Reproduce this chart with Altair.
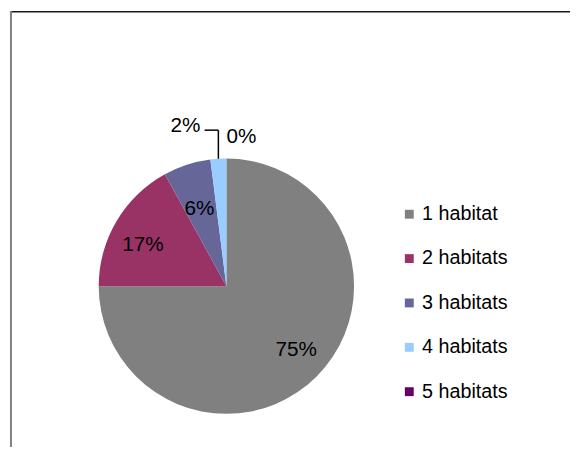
import altair as alt
import pandas as pd

categories = ["1 habitat", "2 habitats", "3 habitats", "4 habitats", "5 habitats"]
values = [75, 17, 6, 2, 0]
colors = ["#808080", "#993366", "#666699", "#99CCFF", "#660066"]

df = pd.DataFrame({"category": categories, "value": values})

FONT = "Liberation Sans, Arial, sans-serif"
CX, CY, R = 221.5, 279.0, 129.5

base = alt.Chart(df).transform_joinaggregate(
    total="sum(value)"
).transform_calculate(
    pct="format(datum.value / datum.total, '.0%')",
    lab_big="datum.value >= 50 ? datum.pct : ''",
    lab_med="datum.value >= 10 && datum.value < 50 ? datum.pct : ''",
    lab_mid="datum.value >= 5 && datum.value < 10 ? datum.pct : ''",
    lab_o1="datum.value >= 1 && datum.value < 5 ? datum.pct : ''",
    lab_o0="datum.value < 1 ? datum.pct : ''",
).encode(
    theta=alt.Theta("value:Q", stack=True),
    order=alt.Order("category:N", sort="ascending"),
    x=alt.value(CX),
    y=alt.value(CY),
)

pie = base.mark_arc(radius=R, strokeWidth=0).encode(
    color=alt.Color(
        "category:N",
        scale=alt.Scale(domain=categories, range=colors),
        legend=alt.Legend(
            title=None,
            orient="none",
            legendX=397,
            legendY=196,
            symbolType="square",
            symbolSize=81,
            symbolStrokeWidth=0,
            labelFontSize=20,
            labelFont=FONT,
            labelColor="black",
            labelOffset=3,
            rowPadding=25,
            padding=0,
        ),
    )
)

txt_big = base.mark_text(
    radius=96, fontSize=21, font=FONT, color="black", dx=3, dy=-3
).encode(text="lab_big:N")
txt_med = base.mark_text(
    radius=96, fontSize=21, font=FONT, color="black", dx=-2, dy=7
).encode(text="lab_med:N")
txt_mid = base.mark_text(radius=82, fontSize=21, font=FONT, color="black", dx=-2).encode(
    text="lab_mid:N"
)
txt_o1 = base.mark_text(
    radius=163, fontSize=21, font=FONT, color="black", align="right", dx=-16
).encode(text="lab_o1:N")
txt_o0 = base.mark_text(
    radius=151.5, fontSize=21, font=FONT, color="black", align="left", dx=0
).encode(text="lab_o0:N")

leader = alt.Chart(df).transform_joinaggregate(
    total="sum(value)"
).transform_window(
    cum="sum(value)", sort=[alt.SortField("category")], frame=[None, 0]
).transform_calculate(
    mid="(datum.cum - datum.value / 2) / datum.total * 2 * PI",
    px=f"{CX} + {R} * sin(datum.mid)",
    py=f"{CY} - {R} * cos(datum.mid)",
    ytop="datum.py - 29",
    xleft="datum.px - 14",
).transform_filter("datum.value >= 1 && datum.value < 5")

vert = leader.mark_rule(color="black", strokeWidth=1.5).encode(
    x=alt.X("px:Q", scale=None, axis=None),
    y=alt.Y("py:Q", scale=None, axis=None),
    y2="ytop:Q",
)
horiz = leader.mark_rule(color="black", strokeWidth=1.5).encode(
    x=alt.X("xleft:Q", scale=None, axis=None),
    x2="px:Q",
    y=alt.Y("ytop:Q", scale=None, axis=None),
)

frame_df = pd.DataFrame({"a": [0]})
frame_top = alt.Chart(frame_df).mark_rule(color="#1a1a1a", strokeWidth=1.5).encode(
    x=alt.value(2), x2=alt.value(570), y=alt.value(0.75)
)
frame_left = alt.Chart(frame_df).mark_rule(color="#808080", strokeWidth=2).encode(
    x=alt.value(3), y=alt.value(0), y2=alt.value(442)
)

chart = alt.layer(
    frame_top, frame_left, pie, vert, horiz,
    txt_big, txt_med, txt_mid, txt_o1, txt_o0
).properties(
    width=570, height=442, autosize=alt.AutoSizeParams(type="none"), padding=0
).configure_view(stroke=None)

chart.save("out.html", embed_options={"renderer": "svg", "actions": False})
